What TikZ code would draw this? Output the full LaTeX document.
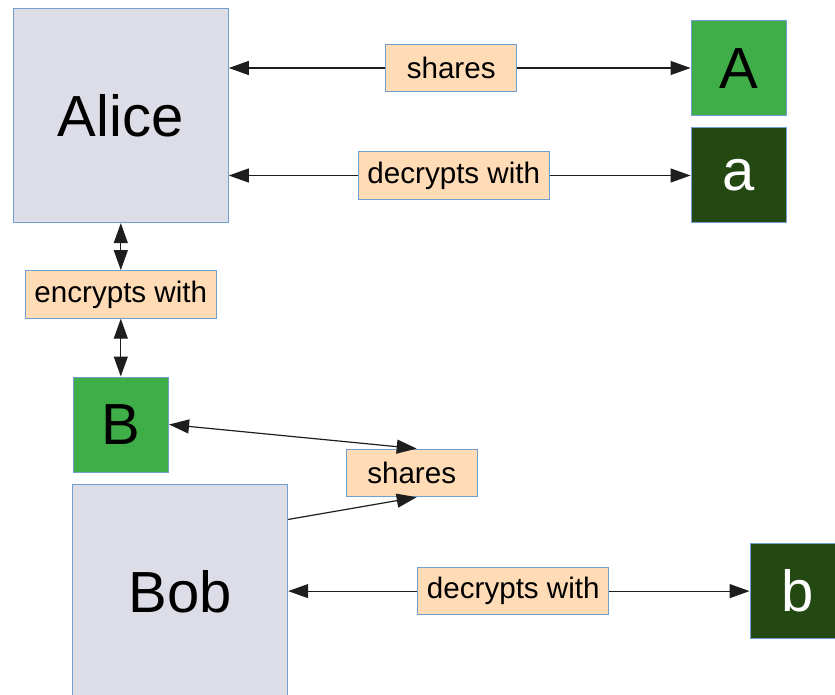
\documentclass[tikz,border=0pt]{standalone}
\usepackage{fontspec}
\setmainfont{Liberation Sans}
\usetikzlibrary{arrows.meta}

\definecolor{personfill}{RGB}{221,221,232}
\definecolor{boxedge}{RGB}{114,159,207}
\definecolor{pubkey}{RGB}{64,174,72}
\definecolor{privkey}{RGB}{36,72,18}
\definecolor{labelfill}{RGB}{255,219,182}
\definecolor{linkcol}{RGB}{30,30,30}

\tikzset{
  box/.style={draw=boxedge, line width=1pt, rectangle, inner sep=0pt, anchor=center},
  person/.style={box, fill=personfill, minimum width=215pt, minimum height=214.5pt,
    font=\fontsize{58}{60}\selectfont},
  pubbox/.style={box, fill=pubkey, minimum width=95.5pt, minimum height=95pt,
    font=\fontsize{58}{60}\selectfont},
  privbox/.style={box, fill=privkey, text=white, minimum width=95.5pt, minimum height=95.5pt,
    font=\fontsize{58}{60}\selectfont},
  rel/.style={box, fill=labelfill, minimum height=47.6pt, font=\fontsize{29.6}{32}\selectfont},
  relshort/.style={rel, minimum width=131pt},
  rellong/.style={rel, minimum width=191pt},
  link/.style={draw=linkcol, line width=1.2pt},
  tip/.style={link, -{Triangle[length=20pt,width=14pt]}},
  tips/.style={link, {Triangle[length=20pt,width=14pt]}-{Triangle[length=20pt,width=14pt]}},
}

\begin{document}
\begin{tikzpicture}[x=1pt,y=-1pt]
  \useasboundingbox (0,0) rectangle (835,695);
  \clip (0,0) rectangle (835,695);

  % parties
  \node[person] (alice) at (120.8,115.4) {Alice};
  \node[person] (bob)   at (180.2,592.2) {Bob};

  % keys
  \node[pubbox]  (pa) at (738.8,68.2)  {A};
  \node[privbox] (sa) at (738.8,174.8) {a};
  \node[pubbox]  (pb) at (120.8,424.5) {B};
  \node[privbox] (sb) at (797.8,591.2) {b};

  % relation labels
  \node[relshort] (sharesA)  at (451.2,68.0)  {shares};
  \node[rellong]  (decA)     at (453.8,175.5) {decrypts with};
  \node[rellong]  (encB)     at (120.8,294.4) {encrypts with};
  \node[relshort] (sharesB)  at (411.7,472.9) {shares};
  \node[rellong]  (decB)     at (513.3,591.1) {decrypts with};

  % Alice's links
  \draw[tip] (sharesA.west) -- (alice.east |- sharesA);
  \draw[tip] (sharesA.east) -- (pa.west |- sharesA);
  \draw[tip] (decA.west) -- (alice.east |- decA);
  \draw[tip] (decA.east) -- (sa.west |- decA);
  \draw[tips] (alice.south) -- (alice.south |- encB.north);
  \draw[tips] (encB.south) -- (encB.south |- pb.north);

  % Bob's links
  \draw[tips] (pb.east) -- ([xshift=5pt]sharesB.north);
  \draw[tip] ([yshift=-35pt]bob.north east) -- ([xshift=5pt]sharesB.south);
  \draw[tip] (decB.west) -- (bob.east |- decB);
  \draw[tip] (decB.east) -- (sb.west |- decB);
\end{tikzpicture}
\end{document}
